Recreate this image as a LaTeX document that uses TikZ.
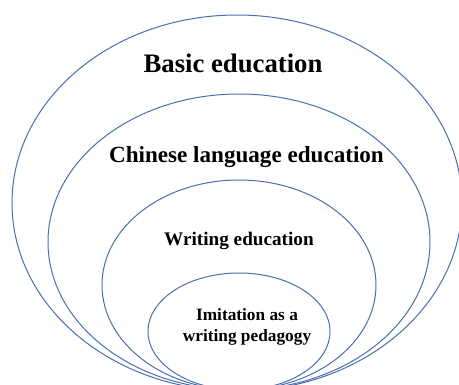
\documentclass[tikz,border=0pt]{standalone}
\usepackage{fontspec}
\setmainfont{Liberation Serif}
\definecolor{ringblue}{HTML}{4A6EB0}
\begin{document}
\begin{tikzpicture}[x=1pt,y=-1pt,
  ring/.style={draw=ringblue,line width=1pt},
  lbl/.style={font=\bfseries,align=center,inner sep=0pt}]
\useasboundingbox (0,0) rectangle (459,385);
\clip (0,0) rectangle (459,385);
\draw[ring] (237,203) ellipse [x radius=225, y radius=188];
\draw[ring] (239,242) ellipse [x radius=191, y radius=148];
\draw[ring] (239,285) ellipse [x radius=137, y radius=105];
\draw[ring] (239,331.5) ellipse [x radius=91, y radius=58.5];
\node[lbl,font=\fontsize{26.7}{30}\selectfont\bfseries] (basic) at (233,63) {Basic education};
\node[lbl,font=\fontsize{23.1}{27}\selectfont\bfseries] (chinese) at (246.5,157) {Chinese language education};
\node[lbl,font=\fontsize{19.2}{23}\selectfont\bfseries] (writing) at (239,241) {Writing education};
\node[lbl,font=\fontsize{17.3}{21}\selectfont\bfseries] (imit) at (247,327) {Imitation as a\\writing pedagogy};
\end{tikzpicture}
\end{document}
